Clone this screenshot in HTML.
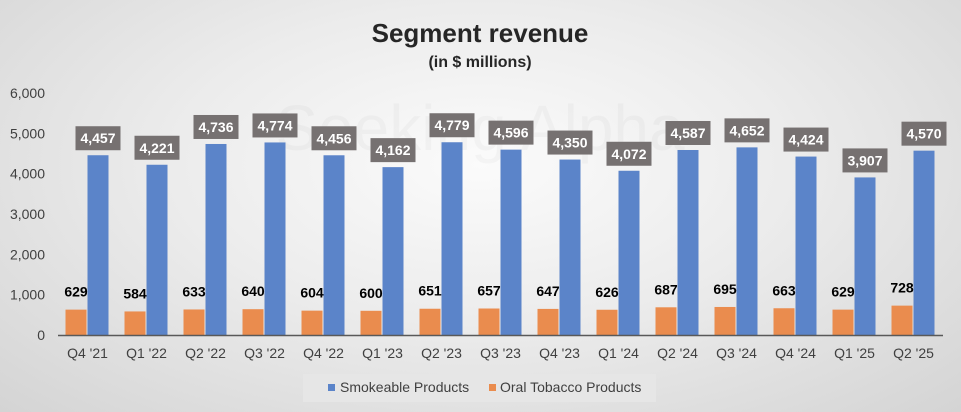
<!DOCTYPE html>
<html><head><meta charset="utf-8"><style>
body{margin:0;width:961px;height:412px;overflow:hidden;font-family:"Liberation Sans",sans-serif;}
#bg{position:absolute;left:0;top:0;width:961px;height:412px;background:radial-gradient(ellipse at 50% 40%,#fbfbfb 0%,#ececec 45%,#d4d4d4 100%);}
svg{position:absolute;left:0;top:0}
</style></head><body>
<div id="bg"></div>
<svg width="961" height="412" id="chart">
<text x="480" y="150" text-anchor="middle" font-size="64" fill="#000" opacity="0.025">Seeking Alpha</text>
<text x="480" y="42" text-anchor="middle" font-size="26" font-weight="bold" fill="#262626">Segment revenue</text>
<text x="480" y="67" text-anchor="middle" font-size="16" font-weight="bold" fill="#262626">(in $ millions)</text>
<g id="yaxis"></g><g id="bars"></g>
<rect x="303" y="374" width="353" height="28" fill="#e6e6e6"/>
<rect x="328" y="384" width="7" height="7" fill="#5b84c9"/>
<text x="340" y="392" font-size="14" fill="#404040">Smokeable Products</text>
<rect x="489" y="384" width="7" height="7" fill="#ea8c4e"/>
<text x="500" y="392" font-size="14" fill="#404040">Oral Tobacco Products</text>
</svg>
<script>
const categories=["Q4 '21","Q1 '22","Q2 '22","Q3 '22","Q4 '22","Q1 '23","Q2 '23","Q3 '23","Q4 '23","Q1 '24","Q2 '24","Q3 '24","Q4 '24","Q1 '25","Q2 '25"];
const smokeable=[4457,4221,4736,4774,4456,4162,4779,4596,4350,4072,4587,4652,4424,3907,4570];
const oral=[629,584,633,640,604,600,651,657,647,626,687,695,663,629,728];
const yTicks=[0,1000,2000,3000,4000,5000,6000];
const NS='http://www.w3.org/2000/svg';
const x0=58,x1=943,yBase=335,yTop=93,yMax=6000;
const step=(x1-x0)/categories.length;
const y=v=>yBase-(v/yMax)*(yBase-yTop);
const xc=i=>x0+step*(i+0.5);
const fmt=v=>v.toLocaleString('en-US');
function mk(tag,attrs,parent,txt){const e=document.createElementNS(NS,tag);for(const k in attrs)e.setAttribute(k,attrs[k]);if(txt!==undefined)e.textContent=txt;parent.appendChild(e);return e;}
const ya=document.getElementById('yaxis'),bg=document.getElementById('bars');
yTicks.forEach(t=>{const e=mk('text',{x:45,y:y(t)+5,'text-anchor':'end','font-size':14,fill:'#404040'},ya,fmt(t));

});
categories.forEach((c,i)=>{
 const cx=xc(i),bw=21;
 const o=mk('rect',{x:cx-bw-1,y:y(oral[i]),width:bw,height:yBase-y(oral[i]),fill:'#ea8c4e'},bg);
 
 
 const s=mk('rect',{x:cx,y:y(smokeable[i]),width:bw,height:yBase-y(smokeable[i]),fill:'#5b84c9'},bg);
 
 
 const ol=mk('text',{x:cx-bw/2-1,y:y(oral[i])-13,'text-anchor':'middle','font-size':14,'font-weight':'bold',fill:'#000'},bg,fmt(oral[i]));
 
 
 const by=y(smokeable[i])-29;
 const bx=mk('rect',{x:cx+bw/2-22.5,y:by,width:45,height:24,fill:'#767171'},bg);
 
 
 const sl=mk('text',{x:cx+bw/2,y:by+17,'text-anchor':'middle','font-size':14,'font-weight':'bold',fill:'#fff'},bg,fmt(smokeable[i]));
 
 
 const xl=mk('text',{x:cx,y:yBase+23,'text-anchor':'middle','font-size':14,fill:'#404040'},bg,c);
 
 
});
const ax=mk('line',{x1:x0,x2:x1,y1:yBase+0.5,y2:yBase+0.5,stroke:'#595959','stroke-width':1.5},bg);


</script>
</body></html>
